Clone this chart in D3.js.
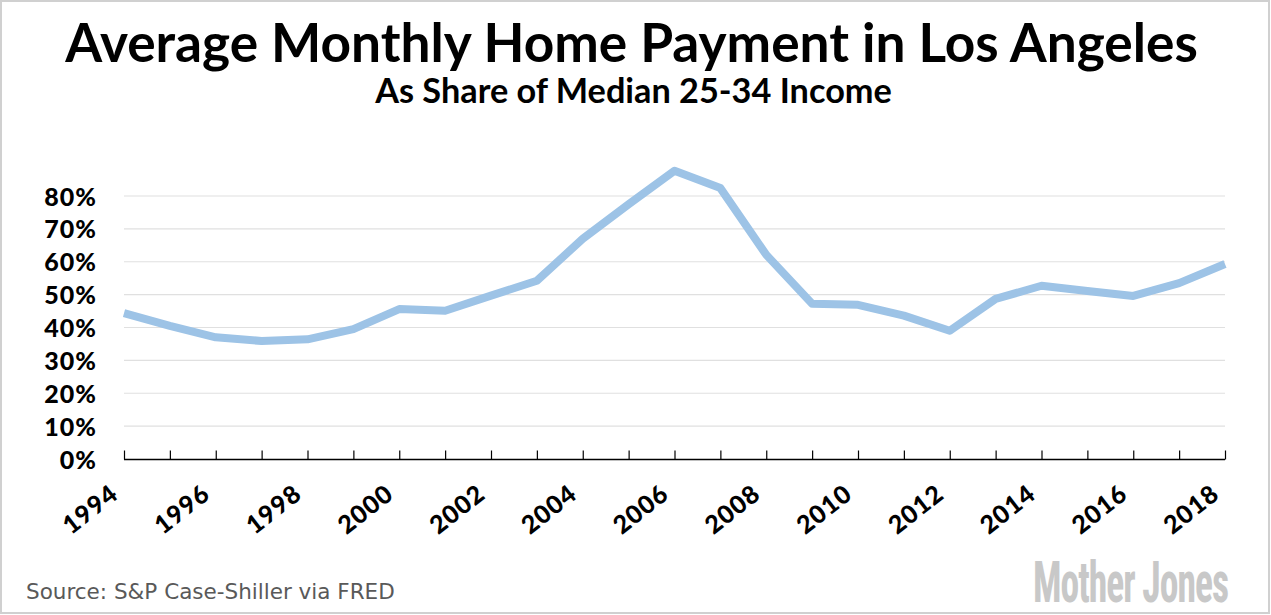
<!DOCTYPE html>
<html>
<head>
<meta charset="utf-8">
<script src="https://cdn.jsdelivr.net/npm/d3@7"></script>
<style>
  html, body { margin: 0; padding: 0; background: #fff; }
  svg { display: block; }
</style>
</head>
<body>
<svg id="chart" width="1271" height="615"></svg>
<script>
const title = "Average Monthly Home Payment in Los Angeles";
const subtitle = "As Share of Median 25-34 Income";
const source = "Source: S&P Case-Shiller via FRED";
const logo = "Mother Jones";

const years = [1994, 1995, 1996, 1997, 1998, 1999, 2000, 2001, 2002, 2003, 2004, 2005,
               2006, 2007, 2008, 2009, 2010, 2011, 2012, 2013, 2014, 2015, 2016, 2017, 2018];
const share = [44.4, 40.5, 37.0, 35.9, 36.4, 39.5, 45.6, 45.1, 49.7, 54.2, 67.0, 77.5,
               87.7, 82.4, 62.1, 47.2, 46.9, 43.6, 39.0, 48.7, 52.7, 51.1, 49.6, 53.5, 59.3];
const yTicks = [0, 10, 20, 30, 40, 50, 60, 70, 80];
const xTickLabels = [1994, 1996, 1998, 2000, 2002, 2004, 2006, 2008, 2010, 2012, 2014, 2016, 2018];

const svg = d3.select("#chart");
const W = 1271, H = 615;

// frame
svg.append("rect").attr("x", 1).attr("y", 1).attr("width", W - 3).attr("height", H - 3)
  .attr("fill", "#fff").attr("stroke", "#d0d0d0").attr("stroke-width", 2);

const x = d3.scaleLinear().domain([1994, 2018]).range([124, 1225]);
const y = d3.scaleLinear().domain([0, 80]).range([459, 196]);

const titleFont = "Lato, 'Open Sans', sans-serif";

function fitText(sel, targetW) {
  const n = sel.node();
  const w = n.getComputedTextLength();
  const fs = parseFloat(sel.attr("font-size"));
  const nfs = fs * targetW / w;
  sel.attr("font-size", nfs);
  return nfs;
}

const t = svg.append("text").attr("x", 631.5).attr("y", 62)
  .attr("text-anchor", "middle").attr("font-family", titleFont)
  .attr("font-weight", 700).attr("font-size", 46).attr("fill", "#000").text(title);
fitText(t, 1133);

const st = svg.append("text").attr("x", 633.5).attr("y", 103)
  .attr("text-anchor", "middle").attr("font-family", titleFont)
  .attr("font-weight", 700).attr("font-size", 27).attr("fill", "#000").text(subtitle);
fitText(st, 517);

// gridlines
svg.append("g").selectAll("line").data(yTicks.filter(d => d > 0)).join("line")
  .attr("x1", x.range()[0]).attr("x2", x.range()[1])
  .attr("y1", d => y(d)).attr("y2", d => y(d))
  .attr("stroke", "#e0e0e0").attr("stroke-width", 1.2);

// y axis labels
const yAxis = d3.axisLeft(y).tickValues(yTicks).tickFormat(d => d + "%").tickSize(0).tickPadding(0);
const gy = svg.append("g").attr("transform", "translate(97,0)").call(yAxis);
gy.select(".domain").remove();
gy.selectAll("text").attr("font-family", titleFont).attr("font-weight", 900)
  .attr("font-size", 25).attr("letter-spacing", 1).attr("fill", "#000").attr("dy", "0.36em");

// x axis
const xAxis = d3.axisTop(x).tickValues(years).tickSize(9).tickFormat("");
const gx = svg.append("g").attr("transform", "translate(0,459.5)").call(xAxis);
gx.select(".domain").attr("stroke", "#000").attr("stroke-width", 1.5).attr("d", `M${x(1994)},0H${x(2018)}`);
gx.selectAll(".tick line").attr("stroke", "#000").attr("stroke-width", 1.2);

svg.append("g").selectAll("text").data(xTickLabels).join("text")
  .attr("transform", d => `translate(${x(d) - 4},497) rotate(-38)`)
  .attr("text-anchor", "end")
  .attr("font-family", titleFont).attr("font-weight", 900).attr("font-size", 25)
  .attr("letter-spacing", 1)
  .attr("fill", "#000").text(d => d);

// line
const line = d3.line().x((d, i) => x(years[i])).y(d => y(d));
svg.append("path").datum(share).attr("d", line)
  .attr("fill", "none").attr("stroke", "#9dc3e6").attr("stroke-width", 8)
  .attr("stroke-linejoin", "round").attr("stroke-linecap", "butt");

// source
const src = svg.append("text").attr("x", 26).attr("y", 599)
  .attr("font-family", "'DejaVu Sans', Verdana, sans-serif").attr("font-size", 19)
  .attr("fill", "#595959").text(source);
fitText(src, 369);

// logo: natural width fitted, then stretched vertically
const lg = svg.append("text").attr("x", 0).attr("y", 0)
  .attr("font-family", "'Liberation Sans Narrow', 'Roboto Condensed', 'Liberation Sans', sans-serif")
  .attr("font-weight", 700).attr("font-size", 50).attr("fill", "#c8c8c8")
  .attr("letter-spacing", -1)
  .text(logo);
const lfs = fitText(lg, 198);
const sy = 41 / (0.72 * lfs);
lg.attr("transform", `translate(1033,602) scale(1,${sy})`);
</script>
</body>
</html>
